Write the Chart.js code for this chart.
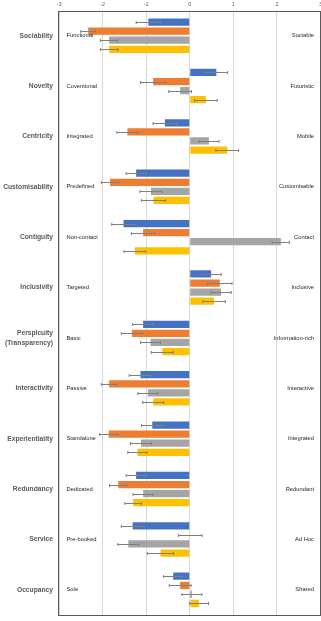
<!DOCTYPE html>
<html>
<head>
<meta charset="utf-8">
<script src="https://cdn.jsdelivr.net/npm/chart.js@4.4.1/dist/chart.umd.min.js"></script>
<style>
  html, body { margin: 0; padding: 0; background: #fff; overflow: hidden; }
  .wrap { position: relative; width: 321px; height: 621px; }
</style>
</head>
<body>
<div class="wrap"><canvas class="myChart"></canvas></div>
<script>
const categories = [
  "Sociability", "Novelty", "Centricity", "Customisability", "Contiguity", "Inclusivity",
  ["Perspicuity", "(Transparency)"], "Interactivity", "Experientiality", "Redundancy", "Service", "Occupancy"
];
const leftPoles = [
  "Functional", "Coventional", "Integrated", "Predefined", "Non-contact", "Targeted",
  "Basic", "Passive", "Standalone", "Dedicated", "Pre-booked", "Sole"
];
const rightPoles = [
  "Sociable", "Futuristic", "Mobile", "Customisable", "Contact", "Inclusive",
  "Information-rich", "Interactive", "Integrated", "Redundant", "Ad Hoc", "Shared"
];

const xTicks = [-3, -2, -1, 0, 1, 2, 3];

const blueValues   = [-0.95, 0.61, -0.57, -1.23, -1.52, 0.49, -1.07, -1.13, -0.86, -1.23, -1.31, -0.38];
const orangeValues = [-2.33, -0.84, -1.43, -1.83, -1.07, 0.69, -1.33, -1.85, -1.86, -1.64, 0.01, -0.22];
const grayValues   = [-1.85, -0.22, 0.44, -0.89, 2.09, 0.72, -0.90, -0.96, -1.12, -1.07, -1.41, 0.05];
const yellowValues = [-1.85, 0.37, 0.86, -0.83, -1.26, 0.56, -0.63, -0.84, -1.20, -1.30, -0.67, 0.21];

const blueErrors   = [0.28, 0.26, 0.27, 0.23, 0.27, 0.23, 0.24, 0.26, 0.25, 0.23, 0.26, 0.22];
const orangeErrors = [0.17, 0.29, 0.24, 0.20, 0.27, 0.28, 0.24, 0.18, 0.21, 0.20, 0.27, 0.25];
const grayErrors   = [0.20, 0.26, 0.23, 0.25, 0.20, 0.23, 0.23, 0.23, 0.24, 0.23, 0.24, 0.23];
const yellowErrors = [0.20, 0.26, 0.26, 0.28, 0.25, 0.26, 0.25, 0.24, 0.22, 0.19, 0.30, 0.22];

const seriesErrors = [blueErrors, orangeErrors, grayErrors, yellowErrors];

const FONT = '"Liberation Sans", Arial, sans-serif';

// whiskers at the end of each bar
const errorBars = {
  id: "errorBars",
  afterDatasetsDraw(chart) {
    const ctx = chart.ctx;
    const xs = chart.scales.x;
    ctx.save();
    ctx.strokeStyle = "#7f7f7f";
    ctx.lineWidth = 1;
    chart.data.datasets.forEach((ds, i) => {
      chart.getDatasetMeta(i).data.forEach((bar, j) => {
        const v = ds.data[j];
        const e = seriesErrors[i][j];
        const x1 = xs.getPixelForValue(v - e);
        const x2 = xs.getPixelForValue(v + e);
        const y = Math.round(bar.y) + 0.5;
        ctx.beginPath();
        ctx.moveTo(x1, y);
        ctx.lineTo(x2, y);
        ctx.moveTo(x1, y - 1.5);
        ctx.lineTo(x1, y + 1.5);
        ctx.moveTo(x2, y - 1.5);
        ctx.lineTo(x2, y + 1.5);
        ctx.stroke();
      });
    });
    ctx.restore();
  }
};

// pole names inside the plot, left and right
const poleLabels = {
  id: "poleLabels",
  afterDatasetsDraw(chart) {
    const ctx = chart.ctx;
    const area = chart.chartArea;
    const ys = chart.scales.y;
    ctx.save();
    ctx.font = "5.8px " + FONT;
    ctx.fillStyle = "#262626";
    ctx.textBaseline = "middle";
    leftPoles.forEach((t, i) => {
      ctx.textAlign = "left";
      ctx.fillText(t, area.left + 7.5, ys.getPixelForValue(i));
    });
    rightPoles.forEach((t, i) => {
      ctx.textAlign = "right";
      ctx.fillText(t, area.right - 6.5, ys.getPixelForValue(i));
    });
    ctx.restore();
  }
};

const frame = {
  id: "frame",
  afterDraw(chart) {
    const ctx = chart.ctx;
    const a = chart.chartArea;
    ctx.save();
    ctx.strokeStyle = "#595959";
    ctx.lineWidth = 1;
    ctx.strokeRect(Math.round(a.left) - 0.5, Math.round(a.top) + 0.5,
      Math.round(a.right) - Math.round(a.left), Math.round(a.bottom) - Math.round(a.top));
    ctx.restore();
  }
};

const ctx = document.querySelector(".myChart").getContext("2d");
const myChart = new Chart(ctx, {
  type: "bar",
  data: {
    labels: categories,
    datasets: [
      { label: "Series 1", data: blueValues, backgroundColor: "#4472C4" },
      { label: "Series 2", data: orangeValues, backgroundColor: "#ED7D31" },
      { label: "Series 3", data: grayValues, backgroundColor: "#A5A5A5" },
      { label: "Series 4", data: yellowValues, backgroundColor: "#FFC000" },
    ],
  },
  options: {
    indexAxis: "y",
    responsive: true,
    maintainAspectRatio: false,
    animation: false,
    devicePixelRatio: 1,
    layout: { padding: { left: 0, right: 0, top: 0, bottom: 6 } },
    datasets: { bar: { categoryPercentage: 0.72, barPercentage: 0.8 } },
    plugins: { legend: { display: false }, tooltip: { enabled: false } },
    scales: {
      x: {
        position: "top",
        min: xTicks[0],
        max: xTicks[xTicks.length - 1],
        afterBuildTicks: (s) => { s.ticks = xTicks.map((v) => ({ value: v })); },
        afterFit: (s) => {
          s.height = 10.5;
          s.paddingRight = 0.5; // let the last tick label run off the edge
        },
        ticks: { color: "#595959", font: { family: FONT, size: 5.5 }, padding: 3 },
        grid: { color: "#d9d9d9", drawTicks: false },
        border: { display: false },
      },
      y: {
        afterFit: (s) => {
          s.width = 59;
          s.paddingTop = 0;
          s.paddingBottom = 0;
        },
        ticks: {
          color: "#595959",
          font: { family: FONT, size: 6.7, weight: "bold", lineHeight: 1.45 },
          padding: 6,
        },
        grid: { display: false, drawTicks: false },
        border: { display: false },
      },
    },
  },
  plugins: [errorBars, poleLabels, frame],
});
</script>
</body>
</html>
